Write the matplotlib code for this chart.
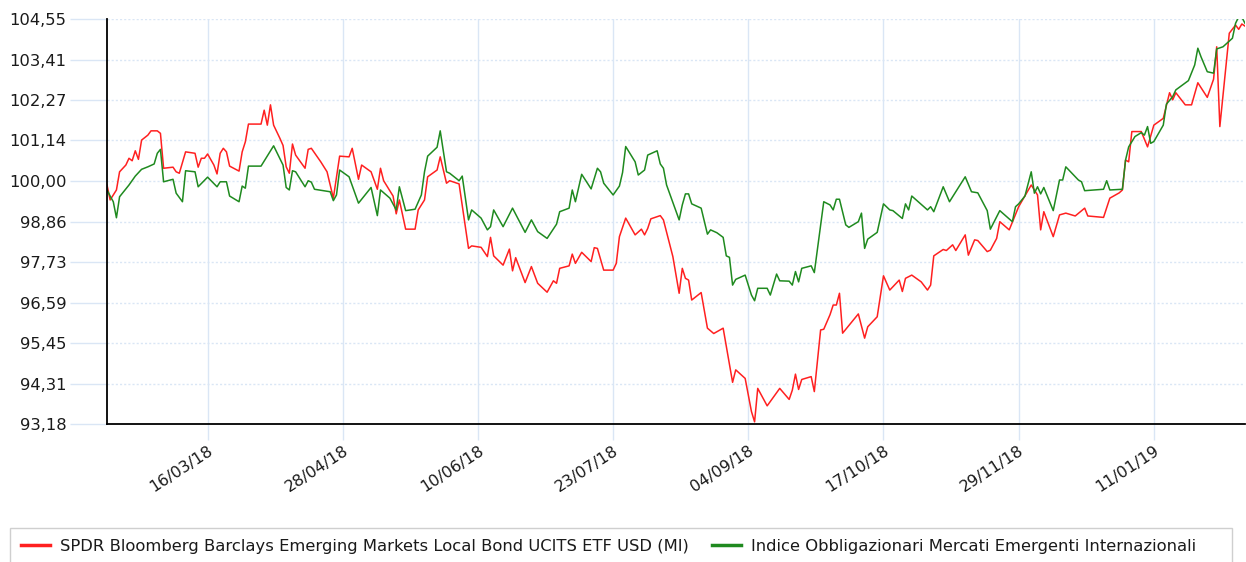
import numpy as np
import matplotlib
matplotlib.use('Agg')
from matplotlib import pyplot as plt
import matplotlib.dates as mdates
from matplotlib.patches import Rectangle
from matplotlib.lines import Line2D

# Values (day offsets from 12/02/2018)
start = np.datetime64('2018-02-12')

etf_days = [0, 1, 3, 4, 6, 7, 8, 9, 10, 11, 13, 14, 16, 17, 18, 21, 22, 23, 25,
            28, 29, 30, 31, 32, 34, 35, 36, 37, 38, 39, 42, 43, 44, 45, 49, 50,
            51, 52, 53, 55, 56, 57, 58, 59, 60, 63, 64, 65, 68, 70, 72, 74, 77,
            78, 80, 81, 84, 86, 87, 88, 91, 92, 93, 95, 98, 99, 101, 102, 105,
            106, 108, 109, 112, 115, 116, 119, 121, 122, 123, 126, 128, 129,
            130, 133, 135, 137, 140, 142, 143, 144, 147, 148, 149, 151, 154,
            155, 156, 158, 161, 162, 163, 165, 168, 170, 171, 172, 173, 176,
            177, 180, 182, 183, 184, 185, 186, 189, 191, 193, 196, 199, 200,
            203, 205, 206, 207, 210, 214, 217, 218, 219, 220, 221, 224, 225,
            227, 228, 230, 231, 232, 233, 234, 239, 241, 242, 245, 247, 249,
            252, 253, 254, 256, 259, 261, 262, 263, 266, 267, 269, 270, 273,
            274, 276, 277, 280, 281, 283, 284, 287, 290, 294, 296, 297, 298,
            301, 303, 305, 308, 311, 312, 317, 319, 322, 323, 324, 325, 326,
            329, 331, 333, 336, 338, 339, 340, 343, 345, 347, 350, 352, 353,
            354, 357, 359, 360, 361, 362]
etf_values = [99.89, 99.47, 99.75, 100.26, 100.45, 100.64, 100.57, 100.85,
              100.61, 101.15, 101.29, 101.41, 101.41, 101.34, 100.36, 100.39,
              100.26, 100.22, 100.82, 100.78, 100.39, 100.64, 100.64, 100.76,
              100.45, 100.20, 100.78, 100.92, 100.82, 100.42, 100.28, 100.82,
              101.10, 101.60, 101.60, 101.99, 101.57, 102.14, 101.57, 101.20,
              101.00, 100.40, 100.22, 101.04, 100.73, 100.36, 100.89, 100.92,
              100.54, 100.26, 99.52, 100.70, 100.68, 100.92, 100.05, 100.45,
              100.26, 99.77, 100.36, 100.01, 99.58, 99.08, 99.47, 98.65, 98.65,
              99.19, 99.47, 100.12, 100.31, 100.68, 99.94, 100.01, 99.92, 98.11,
              98.18, 98.14, 97.88, 98.42, 97.90, 97.64, 98.09, 97.48, 97.85,
              97.15, 97.60, 97.13, 96.88, 97.20, 97.13, 97.55, 97.62, 97.95,
              97.69, 98.00, 97.74, 98.13, 98.11, 97.50, 97.50, 97.69, 98.44,
              98.96, 98.49, 98.65, 98.49, 98.67, 98.94, 99.03, 98.91, 97.88,
              96.85, 97.55, 97.27, 97.22, 96.66, 96.87, 95.87, 95.72, 95.87,
              94.35, 94.70, 94.46, 93.53, 93.24, 94.18, 93.69, 94.18, 93.87,
              94.13, 94.58, 94.15, 94.43, 94.51, 94.09, 95.82, 95.84, 96.25,
              96.52, 96.52, 96.85, 95.73, 96.27, 95.59, 95.91, 96.19, 97.34,
              96.94, 97.22, 96.90, 97.27, 97.36, 97.17, 96.94, 97.08, 97.90,
              98.08, 98.05, 98.21, 98.05, 98.49, 97.92, 98.35, 98.33, 98.02,
              98.06, 98.39, 98.86, 98.63, 99.28, 99.89, 99.61, 98.63, 99.14,
              98.44, 99.05, 99.10, 99.02, 99.24, 99.02, 98.98, 99.52, 99.67,
              99.75, 100.59, 100.54, 101.39, 101.39, 100.96, 101.57, 101.76,
              102.48, 102.28, 102.48, 102.14, 102.14, 102.76, 102.35, 102.86,
              103.77, 101.53, 104.15, 104.38, 104.26, 104.41, 104.35]

index_days = [0, 1, 2, 3, 4, 7, 9, 11, 13, 15, 16, 17, 18, 21, 22, 24, 25, 28,
              29, 32, 35, 36, 38, 39, 42, 43, 44, 45, 49, 53, 56, 57, 58, 59,
              60, 63, 64, 65, 66, 71, 72, 73, 74, 77, 80, 84, 86, 87, 90, 92,
              93, 95, 98, 100, 101, 102, 105, 106, 108, 109, 112, 113, 115,
              116, 119, 121, 122, 123, 126, 129, 133, 135, 137, 140, 143, 144,
              147, 148, 149, 151, 154, 156, 157, 158, 161, 163, 164, 165, 168,
              169, 171, 172, 175, 176, 177, 178, 182, 183, 184, 185, 186, 189,
              191, 192, 194, 196, 197, 198, 199, 200, 203, 205, 206, 207, 210,
              211, 213, 214, 217, 218, 219, 220, 221, 224, 225, 228, 230, 231,
              232, 233, 235, 236, 239, 240, 241, 242, 245, 247, 249, 250, 253,
              254, 255, 256, 261, 262, 263, 266, 268, 273, 275, 277, 280, 281,
              284, 288, 289, 290, 292, 294, 295, 296, 297, 298, 301, 303, 304,
              305, 309, 310, 311, 317, 318, 319, 323, 324, 325, 327, 329, 330,
              331, 332, 333, 336, 337, 339, 340, 344, 346, 347, 348, 350, 352,
              353, 355, 358, 359, 360, 361, 362]
index_values = [99.75, 99.58, 99.42, 98.97, 99.56, 99.89, 100.14, 100.33,
                100.40, 100.48, 100.78, 100.89, 99.98, 100.05, 99.66, 99.42,
                100.29, 100.26, 99.84, 100.11, 99.84, 99.98, 99.98, 99.58,
                99.42, 99.86, 99.80, 100.42, 100.42, 100.99, 100.45, 99.82,
                99.75, 100.29, 100.26, 99.84, 100.01, 99.97, 99.77, 99.70,
                99.45, 99.61, 100.31, 100.12, 99.38, 99.82, 99.03, 99.75, 99.52,
                99.19, 99.84, 99.17, 99.21, 99.61, 100.26, 100.70, 100.95,
                101.41, 100.26, 100.22, 100.01, 100.14, 98.91, 99.19, 98.96,
                98.63, 98.72, 99.19, 98.72, 99.24, 98.56, 98.91, 98.58, 98.39,
                98.79, 99.14, 99.24, 99.75, 99.42, 100.19, 99.78, 100.36,
                100.26, 99.94, 99.61, 99.86, 100.24, 100.97, 100.54, 100.17,
                100.31, 100.73, 100.85, 100.48, 100.36, 99.89, 98.91, 99.33,
                99.64, 99.64, 99.36, 99.24, 98.51, 98.63, 98.55, 98.42, 97.90,
                97.86, 97.08, 97.24, 97.36, 96.80, 96.64, 96.99, 96.99, 96.80,
                97.39, 97.20, 97.19, 97.08, 97.46, 97.17, 97.55, 97.62, 97.43,
                99.42, 99.33, 99.19, 99.49, 99.49, 98.77, 98.70, 98.86, 99.10,
                98.11, 98.37, 98.56, 99.36, 99.19, 99.17, 98.95, 99.36, 99.19,
                99.58, 99.19, 99.28, 99.14, 99.84, 99.42, 100.12, 99.70, 99.67,
                99.17, 98.65, 99.17, 98.86, 99.28, 99.36, 99.58, 100.26, 99.66,
                99.84, 99.64, 99.82, 99.17, 100.03, 100.03, 100.40, 100.03,
                99.98, 99.73, 99.77, 100.01, 99.75, 99.77, 100.59, 100.96,
                101.25, 101.36, 101.29, 101.53, 101.06, 101.11, 101.57, 102.16,
                102.37, 102.56, 102.82, 103.26, 103.73, 103.49, 103.07, 103.03,
                103.71, 103.77, 104.01, 104.43, 104.61, 104.60, 104.43]

y_ticks = [93.18, 94.31, 95.45, 96.59, 97.73, 98.86, 100.00, 101.14, 102.27,
           103.41, 104.55]
x_ticks = ['2018-03-16', '2018-04-28', '2018-06-10', '2018-07-23',
           '2018-09-04', '2018-10-17', '2018-11-29', '2019-01-11']

etf_label = 'SPDR Bloomberg Barclays Emerging Markets Local Bond UCITS ETF USD (MI)'
index_label = 'Indice Obbligazionari Mercati Emergenti Internazionali'

red = '#ff2020'
green = '#1f8a1f'
grid_blue = '#dae6f5'
text_color = '#1a1a1a'

etf_dates = (start + np.array(etf_days).astype('timedelta64[D]')).astype('datetime64[ms]').astype(object)
index_dates = (start + np.array(index_days).astype('timedelta64[D]')).astype('datetime64[ms]').astype(object)

W, H = 1246, 562
fig = plt.figure(figsize=(W / 100, H / 100), dpi=100)
ax = fig.add_axes([107 / W, 1 - 424 / H, (1245 - 107) / W, (424 - 19) / H])

ax.plot(etf_dates, etf_values, color=red, lw=1.1, zorder=3)
ax.plot(index_dates, index_values, color=green, lw=1.1, zorder=3)

ax.set_ylim(y_ticks[0], y_ticks[-1])
ax.set_xlim(mdates.date2num(start),
            mdates.date2num(start + np.timedelta64(362, 'D')))

ax.set_yticks(y_ticks)
ax.set_yticklabels([f'{v:.2f}'.replace('.', ',') for v in y_ticks])
tick_nums = [mdates.date2num(np.datetime64(d)) for d in x_ticks]
ax.set_xticks(tick_nums)
ax.set_xticklabels([np.datetime64(d).astype(object).strftime('%d/%m/%y') for d in x_ticks],
                   rotation=33, ha='right', rotation_mode='anchor')

ax.grid(axis='x', color=grid_blue, lw=1, ls='-')
ax.grid(axis='y', color=grid_blue, lw=1, ls=(0, (1.5, 1.5)))
ax.set_axisbelow(True)

for side in ('top', 'right'):
    ax.spines[side].set_visible(False)
for side in ('left', 'bottom'):
    ax.spines[side].set_color('black')
    ax.spines[side].set_linewidth(1.3)
    ax.spines[side].set_zorder(4)

ax.tick_params(axis='y', length=27, width=1, color=grid_blue, pad=2,
               labelsize=11.8, labelcolor=text_color)
ax.tick_params(axis='x', length=11.5, width=1, color=grid_blue, pad=2,
               labelsize=11.5, labelcolor=text_color)

# legend box at the bottom
fig.patches.append(Rectangle((10 / W, -0.05), (1232 - 10) / W, 0.05 + 1 - 528 / H,
                             transform=fig.transFigure, fill=False,
                             edgecolor='#cfcfcf', lw=1))
handles = [Line2D([], [], color=red, lw=2.5), Line2D([], [], color=green, lw=2.5)]
fig.legend(handles, [etf_label, index_label], loc='center left',
           bbox_to_anchor=(14 / W, 1 - 546 / H), ncol=2, frameon=False,
           fontsize=11.8, handlelength=1.8, handletextpad=0.6,
           columnspacing=1.4, labelcolor=text_color, borderaxespad=0)

fig.savefig('out.png', dpi=100)
